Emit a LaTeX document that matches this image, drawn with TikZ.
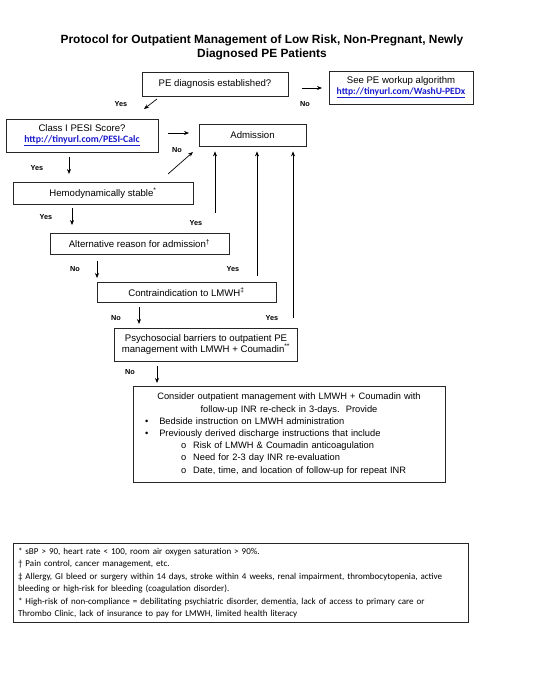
\documentclass[tikz,border=0pt]{standalone}
\usepackage{fontspec}
\setmainfont{Liberation Sans}
\newfontfamily\calibri{Carlito}
\usepackage{tikz}
\usetikzlibrary{positioning, arrows.meta, calc}
\definecolor{linkblue}{RGB}{25,25,205}
\newcommand{\weblink}[1]{{\calibri\bfseries\color{linkblue}\underline{#1}}}

\begin{document}
\begin{tikzpicture}[x=1pt, y=-1pt, >={Stealth[length=5pt,width=4pt]},
    box/.style={draw=black!85, line width=0.8pt, align=center, inner sep=1pt, font=\fontsize{9.6}{11}\selectfont},
    lbl/.style={font=\fontsize{7.3}{8}\selectfont\bfseries, inner sep=0pt},
    flow/.style={->, line width=0.7pt}]
  \useasboundingbox (0,0) rectangle (540,700);
  \node[font=\fontsize{11.9}{14}\selectfont\bfseries, align=center] (title) at (262,47)
    {Protocol for Outpatient Management of Low Risk, Non-Pregnant, Newly\\Diagnosed PE Patients};
  % decision chain
  \node[box, minimum width=146, minimum height=24] (pe) at (215,84) {PE diagnosis established?};
  \node[box, minimum width=144, minimum height=33] (workup) at (401,87.5) {See PE workup algorithm\\[0pt]\weblink{\fontsize{9.6}{10}\selectfont http://tinyurl.com/WashU-PEDx}};
  \node[box, minimum width=152, minimum height=33] (pesi) at (82,135.5) {Class I PESI Score?\\[0pt]\weblink{\fontsize{9.8}{10}\selectfont http://tinyurl.com/PESI-Calc}};
  \node[box, minimum width=107, minimum height=22] (adm) at (252.5,135) {Admission};
  \node[box, minimum width=180, minimum height=22] (stable) at (103,193) {Hemodynamically stable\textsuperscript{*}};
  \node[box, minimum width=179, minimum height=21] (alt) at (139.5,243.5) {Alternative reason for admission\textsuperscript{†}};
  \node[box, minimum width=179, minimum height=20] (contra) at (186.5,292) {Contraindication to LMWH\textsuperscript{‡}};
  \node[box, minimum width=183, minimum height=33] (psy) at (206,344.5) {Psychosocial barriers to outpatient PE\\management with LMWH + Coumadin\textsuperscript{**}};
  \node[box, minimum width=312, minimum height=96, text width=304pt, inner sep=4pt, align=left,
        font=\fontsize{9.3}{12.2}\selectfont] (cons) at (289,434)
    {\makebox[304pt]{Consider outpatient management with LMWH + Coumadin with}\\
     \makebox[304pt]{follow-up INR re-check in 3-days.\ \ Provide}\\
     \hspace*{8pt}•\hspace{11pt}Bedside instruction on LMWH administration\\
     \hspace*{8pt}•\hspace{11pt}Previously derived discharge instructions that include\\
     \hspace*{44pt}o\hspace{7pt}Risk of LMWH \& Coumadin anticoagulation\\
     \hspace*{44pt}o\hspace{7pt}Need for 2-3 day INR re-evaluation\\
     \hspace*{44pt}o\hspace{7pt}Date, time, and location of follow-up for repeat INR};
  % footnotes
  \node[box, minimum width=455, minimum height=77, text width=445pt, inner sep=4pt, align=left,
        font=\calibri\fontsize{9}{12.5}\selectfont] (notes) at (240.5,583)
    {* sBP > 90, heart rate < 100, room air oxygen saturation > 90\%.\\
     † Pain control, cancer management, etc.\\
     ‡ Allergy, GI bleed or surgery within 14 days, stroke within 4 weeks, renal impairment, thrombocytopenia, active\\
     bleeding or high-risk for bleeding (coagulation disorder).\\
     ** High-risk of non-compliance = debilitating psychiatric disorder, dementia, lack of access to primary care or\\
     Thrombo Clinic, lack of insurance to pay for LMWH, limited health literacy};
  % branch labels
  \node[lbl] (yes0) at (121,104) {Yes};
  \node[lbl] (no0) at (305,104) {No};
  \node[lbl] (no1) at (177,150) {No};
  \node[lbl] (yes1) at (37,168) {Yes};
  \node[lbl] (yes2) at (46,217) {Yes};
  \node[lbl] (yes3) at (196,223) {Yes};
  \node[lbl] (no2) at (75,269) {No};
  \node[lbl] (yes4) at (233,269) {Yes};
  \node[lbl] (no3) at (116,318) {No};
  \node[lbl] (yes5) at (272,318) {Yes};
  \node[lbl] (no4) at (130,372) {No};
  % arrows
  \coordinate (a0) at (157,99);
  \coordinate (b0) at (302,88);
  \coordinate (a1) at (168,133);
  \coordinate (b1) at (168,174);
  \coordinate (d1) at (69,157);
  \coordinate (d2) at (72,208);
  \coordinate (d3) at (97,261);
  \coordinate (d4) at (139,307);
  \coordinate (d5) at (157,366);
  \coordinate (u1) at (215,213);
  \coordinate (u2) at (257,276);
  \coordinate (u3) at (293,318);
  \draw[flow] (a0) -- ++(-13,10);
  \draw[flow] (b0) -- ++(20,0);
  \draw[flow] (a1) -- ++(21,0);
  \draw[flow] (b1) -- ++(25,-22);
  \foreach \d in {d1,d2,d3,d4,d5}
    \draw[flow] (\d) -- ++(0,17);
  \foreach \u in {u1,u2,u3}
    \draw[flow, shorten >=5pt] (\u) -- (\u |- adm.south);
\end{tikzpicture}
\end{document}
